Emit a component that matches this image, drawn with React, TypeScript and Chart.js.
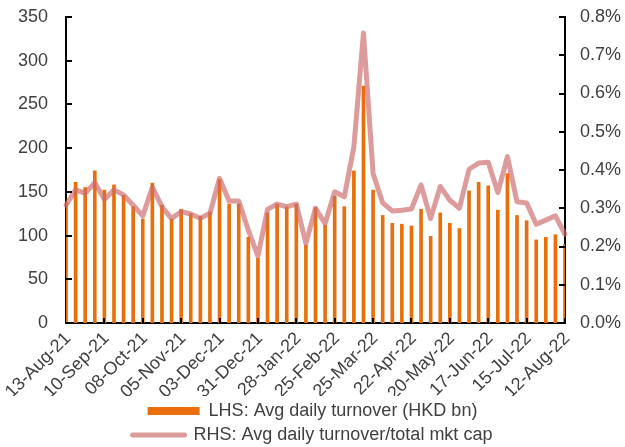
import React, { useEffect, useRef } from "react";
import { Chart, registerables } from "chart.js";

Chart.register(...registerables);

const categories = [
  "13-Aug-21", "20-Aug-21", "27-Aug-21", "03-Sep-21", "10-Sep-21", "17-Sep-21", "24-Sep-21",
  "01-Oct-21", "08-Oct-21", "15-Oct-21", "22-Oct-21", "29-Oct-21", "05-Nov-21", "12-Nov-21",
  "19-Nov-21", "26-Nov-21", "03-Dec-21", "10-Dec-21", "17-Dec-21", "24-Dec-21", "31-Dec-21",
  "07-Jan-22", "14-Jan-22", "21-Jan-22", "28-Jan-22", "04-Feb-22", "11-Feb-22", "18-Feb-22",
  "25-Feb-22", "04-Mar-22", "11-Mar-22", "18-Mar-22", "25-Mar-22", "01-Apr-22", "08-Apr-22",
  "15-Apr-22", "22-Apr-22", "29-Apr-22", "06-May-22", "13-May-22", "20-May-22", "27-May-22",
  "03-Jun-22", "10-Jun-22", "17-Jun-22", "24-Jun-22", "01-Jul-22", "08-Jul-22", "15-Jul-22",
  "22-Jul-22", "29-Jul-22", "05-Aug-22", "12-Aug-22",
];

const turnoverHKDbn = [
  138, 161, 155, 174, 152, 158, 146, 133, 119, 160, 135, 119, 130, 125,
  122, 127, 164, 136, 136, 98, 74, 126, 136, 133, 136, 89, 132, 112,
  145, 133, 174, 271, 152, 123, 114, 113, 111, 130, 99, 126, 114, 108,
  151, 161, 157, 129, 171, 123, 117, 95, 98, 101, 90,
];

const turnoverToMktCapPct = [
  0.308, 0.348, 0.339, 0.367, 0.323, 0.348, 0.335, 0.308, 0.28, 0.355, 0.304, 0.273, 0.291, 0.285,
  0.274, 0.287, 0.378, 0.319, 0.319, 0.243, 0.175, 0.297, 0.311, 0.304, 0.311, 0.208, 0.3, 0.26,
  0.343, 0.33, 0.461, 0.758, 0.391, 0.314, 0.293, 0.295, 0.298, 0.361, 0.273, 0.357, 0.321, 0.3,
  0.402, 0.418, 0.42, 0.341, 0.435, 0.317, 0.314, 0.258, 0.269, 0.28, 0.232,
];

const leftTicks = [0, 50, 100, 150, 200, 250, 300, 350];
const rightTicks = [0, 0.1, 0.2, 0.3, 0.4, 0.5, 0.6, 0.7, 0.8];
const xTickEvery = 4;

const legendBar = "LHS: Avg daily turnover (HKD bn)";
const legendLine = "RHS: Avg daily turnover/total mkt cap";

const BAR_COLOR = "#EA6F0C";
const LINE_COLOR = "rgba(206,108,108,0.68)";
const LEGEND_LINE_COLOR = "#DC9A9A";
const TEXT_COLOR = "#404040";
const FONT = "'Liberation Sans', Arial, sans-serif";

const innerTicks = {
  id: "innerTicks",
  afterDatasetsDraw(chart: any) {
    const { ctx, chartArea } = chart;
    const y = chart.scales.y;
    const y1 = chart.scales.y1;
    const x = chart.scales.x;
    ctx.save();
    ctx.strokeStyle = "#000";
    ctx.lineWidth = 2;
    ctx.beginPath();
    leftTicks.forEach((v) => {
      const py = Math.round(y.getPixelForValue(v));
      ctx.moveTo(chartArea.left, py);
      ctx.lineTo(chartArea.left + 6, py);
    });
    rightTicks.forEach((v) => {
      const py = Math.round(y1.getPixelForValue(v));
      ctx.moveTo(chartArea.right, py);
      ctx.lineTo(chartArea.right - 6, py);
    });
    categories.forEach((_, i) => {
      if (i > 0 && i % xTickEvery === 0) {
        const px = Math.round(x.getPixelForValue(i));
        ctx.moveTo(px, chartArea.bottom);
        ctx.lineTo(px, chartArea.bottom - 5);
      }
    });
    ctx.stroke();
    ctx.restore();
  },
};

export default function App() {
  const ref = useRef<HTMLCanvasElement | null>(null);

  useEffect(() => {
    document.body.style.margin = "0";
    if (!ref.current) return;
    Chart.defaults.font.family = FONT;
    Chart.defaults.font.size = 18;
    Chart.defaults.color = TEXT_COLOR;

    const chart = new Chart(ref.current, {
      type: "bar",
      data: {
        labels: categories,
        datasets: [
          {
            type: "bar",
            label: legendBar,
            data: turnoverHKDbn,
            backgroundColor: BAR_COLOR,
            barThickness: 3,
            yAxisID: "y",
            order: 2,
          } as any,
          {
            type: "line",
            label: legendLine,
            data: turnoverToMktCapPct,
            borderColor: LINE_COLOR,
            borderWidth: 5,
            pointRadius: 0,
            tension: 0,
            borderJoinStyle: "round",
            borderCapStyle: "round",
            yAxisID: "y1",
            order: 1,
          } as any,
        ],
      },
      options: {
        responsive: false,
        animation: false,
        layout: { padding: { top: 17, left: 0, right: 0, bottom: -7 } },
        plugins: {
          tooltip: { enabled: false },
          legend: {
            position: "bottom",
            labels: {
              usePointStyle: true,
              pointStyleWidth: 52,
              boxHeight: 8,
              padding: 6,
              color: TEXT_COLOR,
              font: { size: 18, family: FONT },
              generateLabels: () => [
                {
                  text: legendBar,
                  fillStyle: BAR_COLOR,
                  strokeStyle: BAR_COLOR,
                  lineWidth: 0,
                  pointStyle: "rect",
                  datasetIndex: 0,
                  hidden: false,
                  fontColor: TEXT_COLOR,
                } as any,
                {
                  text: legendLine,
                  fillStyle: LEGEND_LINE_COLOR,
                  strokeStyle: LEGEND_LINE_COLOR,
                  lineWidth: 5,
                  lineCap: "round",
                  pointStyle: "line",
                  datasetIndex: 1,
                  hidden: false,
                  fontColor: TEXT_COLOR,
                } as any,
              ],
            },
          },
        },
        scales: {
          x: {
            type: "category",
            offset: false,
            grid: { display: false, drawTicks: false, offset: false },
            border: { display: true, color: "#000", width: 2 },
            ticks: {
              autoSkip: false,
              maxRotation: 45,
              minRotation: 45,
              padding: 5,
              labelOffset: 2,
              color: TEXT_COLOR,
              font: { size: 18, family: FONT },
              callback: (_v: any, i: number) => (i % xTickEvery === 0 ? categories[i] : ""),
            },
            afterFit: (s: any) => {
              s.height = 73;
            },
          },
          y: {
            type: "linear",
            position: "left",
            min: 0,
            max: 350,
            grid: { display: false, drawTicks: true, tickLength: 16 },
            border: { display: true, color: "#000", width: 2 },
            ticks: {
              stepSize: 50,
              padding: 2,
              color: TEXT_COLOR,
              font: { size: 18, family: FONT },
            },
            afterFit: (s: any) => {
              s.width = 66;
            },
          },
          y1: {
            type: "linear",
            position: "right",
            min: 0,
            max: 0.8,
            grid: { display: false, drawTicks: true, tickLength: 13 },
            border: { display: true, color: "#000", width: 2 },
            ticks: {
              stepSize: 0.1,
              padding: 2,
              color: TEXT_COLOR,
              font: { size: 18, family: FONT },
              callback: (v: any) => Number(v).toFixed(1) + "%",
            },
            afterFit: (s: any) => {
              s.width = 60;
            },
          },
        },
      },
      plugins: [innerTicks],
    });
    return () => chart.destroy();
  }, []);

  return (
    <div style={{ width: 625, height: 447 }}>
      <canvas ref={ref} width={625} height={447} style={{ display: "block" }} />
    </div>
  );
}
